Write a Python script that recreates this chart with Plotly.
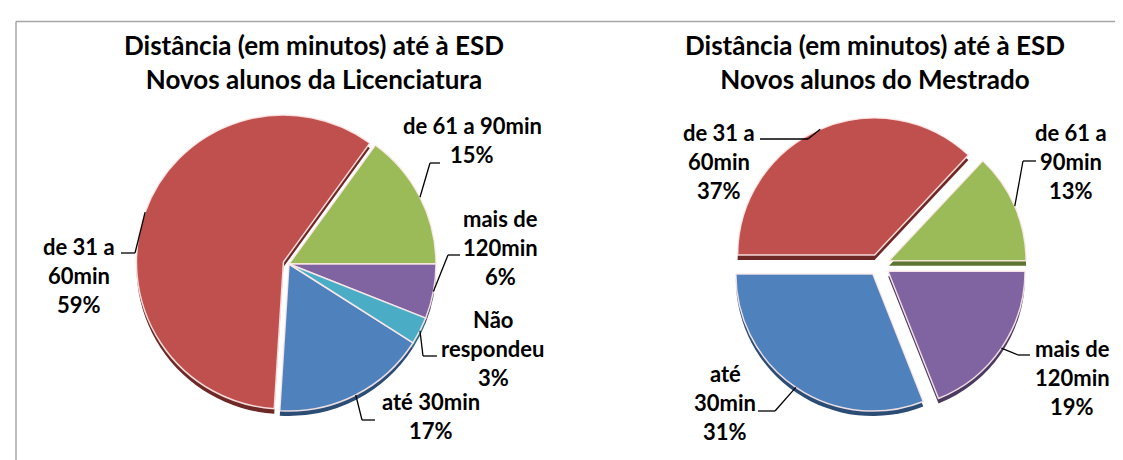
import math
import plotly.graph_objects as go

W, H = 1123, 460

# ---------------- data ----------------
categorias = ["até 30min", "de 31 a 60min", "de 61 a 90min", "mais de 120min", "Não respondeu"]
valores_lic = [17, 59, 15, 6, 3]          # Novos alunos da Licenciatura (%)
valores_mes = [31, 37, 13, 19]            # Novos alunos do Mestrado (%)
cats_mes = categorias[:4]

# how each category name is wrapped in its label
wrap_lic = [["até 30min"], ["de 31 a", "60min"], ["de 61 a 90min"], ["mais de", "120min"], ["Não", "respondeu"]]
wrap_mes = [["até", "30min"], ["de 31 a", "60min"], ["de 61 a", "90min"], ["mais de", "120min"]]

titulo_lic = ["Distância (em minutos) até à ESD", "Novos alunos da Licenciatura"]
titulo_mes = ["Distância (em minutos) até à ESD", "Novos alunos do Mestrado"]

# ---------------- style ----------------
cores = ["#4F81BD", "#C0504D", "#9BBB59", "#8064A2", "#4BACC6"]
cores_lado = ["#2B4C74", "#6E2826", "#5E7431", "#4A3A60", "#2A6E80"]
FONT = "Lato"
LABEL_SIZE = 22
TITLE_SIZE = 26

# pie geometry (pixels): centre, radius, pulls, rotation
lic = dict(cx=281, cy=256, r=147, pull=[0, 0.04, 0, 0, 0], rot=122.4)
mes = dict(cx=871, cy=257, r=137, pull=[0.08, 0.08, 0.08, 0.08], rot=158.4)

# label layout: (label centre x, first baseline y, elbow x, elbow y, end x)
lay_lic = [(423, 401, 354, 412, 367),
           (71, 246, 127, 245, 113),
           (464, 125, 422, 155, 432),
           (492, 218, 440, 247, 452),
           (485, 319, 415, 348, 429)]
lay_mes = [(717, 373, 767, 403, 750),
           (711, 132, 800, 131, 752),
           (1063, 132, 1015, 153, 1028),
           (1064, 348, 1010, 347, 1022)]

LINE_STEP = 29


def px(x):
    return x / W


def py(y):
    return 1 - y / H


def domain(g, dy=0):
    half = g["r"] * (1 + max(g["pull"]))
    return dict(x=[px(g["cx"] - half), px(g["cx"] + half)],
                y=[py(g["cy"] + dy + half), py(g["cy"] + dy - half)])


fig = go.Figure()
shapes = []
annotations = []


def add_pie(labels, values, g, wraps, lay):
    n = len(values)
    # 3D side (darker copy slightly lower)
    fig.add_trace(go.Pie(labels=labels, values=values, sort=False, direction="clockwise",
                         rotation=g["rot"], pull=g["pull"], domain=domain(g, dy=5),
                         marker=dict(colors=cores_lado[:n], line=dict(width=0)),
                         textinfo="none", hoverinfo="skip", showlegend=False))
    fig.add_trace(go.Pie(labels=labels, values=values, sort=False, direction="clockwise",
                         rotation=g["rot"], pull=g["pull"], domain=domain(g),
                         marker=dict(colors=cores[:n], line=dict(color="rgba(255,235,235,0.9)", width=1.5)),
                         textinfo="none", hoverinfo="label+percent", showlegend=False))
    total = sum(values)
    cum = 0
    for i, v in enumerate(values):
        ang = math.radians(g["rot"] + 360 * (cum + v / 2) / total)
        cum += v
        d = g["r"] * (1 + g["pull"][i])
        ax = g["cx"] + d * math.sin(ang)
        ay = g["cy"] - d * math.cos(ang)
        lx, base, ex, ey, endx = lay[i]
        shapes.append(dict(type="line", xref="paper", yref="paper",
                           x0=px(ax), y0=py(ay), x1=px(ex), y1=py(ey),
                           line=dict(color="black", width=1.3)))
        shapes.append(dict(type="line", xref="paper", yref="paper",
                           x0=px(ex), y0=py(ey), x1=px(endx), y1=py(ey),
                           line=dict(color="black", width=1.3)))
        linhas = wraps[i] + [f"{round(100 * v / total)}%"]
        for k, t in enumerate(linhas):
            annotations.append(dict(text=f"<b>{t}</b>", x=px(lx),
                                    y=py(base + k * LINE_STEP - 0.35 * LABEL_SIZE),
                                    xref="paper", yref="paper", xanchor="center", yanchor="middle",
                                    showarrow=False, font=dict(family=FONT, size=LABEL_SIZE, color="black")))


add_pie(categorias, valores_lic, lic, wrap_lic, lay_lic)
add_pie(cats_mes, valores_mes, mes, wrap_mes, lay_mes)

# titles: one two-line annotation each, first baseline at y=46
base1 = 46
base2 = base1 + 1.3 * TITLE_SIZE
mid = (base1 + base2) / 2 - 0.35 * TITLE_SIZE
for cx, linhas in ((306, titulo_lic), (867, titulo_mes)):
    annotations.append(dict(text="<br>".join(f"<b>{t}</b>" for t in linhas), x=px(cx), y=py(mid),
                            xref="paper", yref="paper", xanchor="center", yanchor="middle",
                            align="center", showarrow=False,
                            font=dict(family=FONT, size=TITLE_SIZE, color="black")))

# frame (top and left borders)
shapes.append(dict(type="line", xref="paper", yref="paper", x0=px(8), y0=py(13.5), x1=1, y1=py(13.5),
                   line=dict(color="#A6A6A6", width=1.5)))
shapes.append(dict(type="line", xref="paper", yref="paper", x0=px(8), y0=py(13.5), x1=px(8), y1=0,
                   line=dict(color="#A6A6A6", width=1.5)))

fig.update_layout(width=W, height=H, margin=dict(l=0, r=0, t=0, b=0),
                  paper_bgcolor="white", plot_bgcolor="white",
                  shapes=shapes, annotations=annotations, showlegend=False)

fig.write_html("out.html")
